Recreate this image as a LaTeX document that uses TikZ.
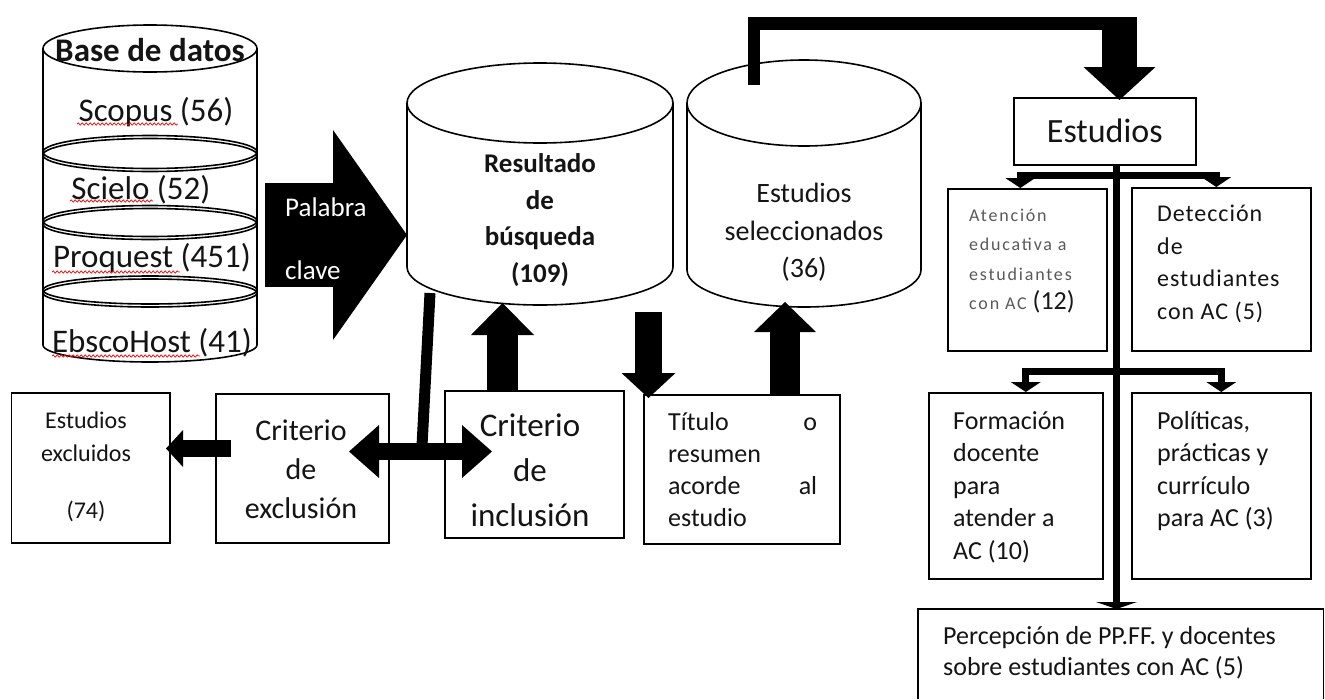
\documentclass[tikz,border=0pt]{standalone}
\usepackage{fontspec}
\setmainfont{Carlito}
\usetikzlibrary{arrows.meta,decorations.pathmorphing}
\newcommand\fsz[2]{\fontsize{#1pt}{#2pt}\selectfont}
\begin{document}
\begin{tikzpicture}[x=1pt,y=-1pt,
  line join=miter,
  cyl/.style={draw=black, line width=1.6pt},
  box/.style={draw=black, line width=1.6pt, fill=white, anchor=north west, inner sep=0pt},
  txt/.style={inner sep=0pt, text=black!92},
  blk/.style args={#1/#2/#3}{line width=#1, -{Triangle[width=#2,length=#3,line width=0pt]}},
  tree/.style={line width=7pt, -{Triangle[width=30pt,length=10pt,line width=0pt]}},
  squig/.style={draw=red, line width=0.7pt, decorate, decoration={snake, amplitude=1.1pt, segment length=4pt}},
]
\fill[white] (0,0) rectangle (1325,699);
\useasboundingbox (0,0) rectangle (1325,699);

% ---------- database cylinder ----------
\draw[cyl, fill=white] (43,48.5) -- (43,345) arc[start angle=180,end angle=360,x radius=107pt,y radius=17pt] -- (257,48.5);
\draw[cyl] (150,48.5) ellipse[x radius=107pt,y radius=23.5pt];
\foreach \yy/\ry in {152/16.5, 221/15.5, 290/14}{
  \draw[cyl] (150,\yy) ellipse[x radius=107pt,y radius=\ry pt];
  \draw[cyl] (150,\yy+3) ellipse[x radius=107pt,y radius=\ry pt];
}
\node[txt, font=\fsz{33}{40}\bfseries] (dbT) at (150,50) {Base de datos};
\node[txt, font=\fsz{33}{40}] (scopus) at (156,112) {Scopus (56)};
\node[txt, font=\fsz{33}{40}] (scielo) at (141,190) {Scielo (52)};
\node[txt, font=\fsz{33}{40}] (proq) at (152,258) {Proquest (451)};
\node[txt, font=\fsz{33}{40}] (ebsco) at (152,343) {EbscoHost (41)};
\draw[squig] (77,124) -- (178,124);
\draw[squig] (70,201) -- (153,201);
\draw[squig] (52,272) -- (180,272);
\draw[squig] (52,356) -- (200,356);

% ---------- Resultado cylinder ----------
\draw[cyl, fill=white] (407,103) -- (407,267) arc[start angle=180,end angle=360,x radius=133pt,y radius=38pt] -- (673,103);
\draw[cyl] (540,103) ellipse[x radius=133pt,y radius=40pt];
\node[txt, font=\fsz{27}{36.7}\bfseries, align=center] (res) at (540,220) {Resultado\\de\\búsqueda\\(109)};

% ---------- Estudios seleccionados cylinder ----------
\draw[cyl, fill=white] (687,103) -- (687,270) arc[start angle=180,end angle=360,x radius=117pt,y radius=37pt] -- (921,103);
\draw[cyl] (804,103) ellipse[x radius=117pt,y radius=43pt];
\node[txt, font=\fsz{28}{37.5}, align=center] (sel) at (804,232.5) {Estudios\\seleccionados\\(36)};

% ---------- Palabra clave arrow ----------
\coordinate (pkS) at (265,235);
\coordinate (pkE) at (407,235);
\draw[blk=104pt/210pt/74pt] (pkS) -- (pkE);
\node[txt, anchor=west, text=white, font=\fsz{27}{30}] (pal) at (285,207) {Palabra};
\node[txt, anchor=west, text=white, font=\fsz{27}{30}] (clave) at (285,270) {clave};

% ---------- bottom-left boxes ----------
\node[box, minimum width=158.5pt, minimum height=150pt] (exc) at (10.5,392) {};
\node[box, minimum width=173pt, minimum height=149pt] (crex) at (215,393) {};
\node[box, minimum width=179pt, minimum height=147pt] (crin) at (444,390) {};
\node[box, minimum width=196pt, minimum height=149pt] (tit) at (643,394) {};

% ---------- right column boxes ----------
\node[box, minimum width=182pt, minimum height=67pt] (est) at (1013,97) {};
\node[box, minimum width=159pt, minimum height=162pt] (aten) at (947,188) {};
\node[box, minimum width=179pt, minimum height=163pt] (detec) at (1131,187) {};
\node[box, minimum width=174pt, minimum height=186pt] (form) at (928,392) {};
\node[box, minimum width=179pt, minimum height=186pt] (poli) at (1131,392) {};
\node[inner sep=0pt, anchor=north west, minimum width=405pt, minimum height=90pt] (perc) at (918,609) {};
\draw[line width=1.6pt] (perc.south west) |- (perc.north east) -- (perc.south east);

% ---------- connectors ----------
\coordinate (exA) at (231,448.5);
\coordinate (exB) at (166,448.5);
\draw[blk=17pt/37pt/17pt] (exA) -- (exB);

\coordinate (dA) at (349,451.5);
\coordinate (dB) at (492,451.5);
\draw[line width=17pt, {Triangle[width=53pt,length=30pt,line width=0pt]}-{Triangle[width=53pt,length=30pt,line width=0pt]}] (dA) -- (dB);

\coordinate (barT) at (430,293);
\coordinate (barB) at (422,446);
\draw[line width=11pt] (barT) -- (barB);

\coordinate (inUpS) at (502.5,390);
\coordinate (inUpE) at (502.5,303);
\draw[blk=31pt/63pt/32pt] (inUpS) -- (inUpE);

\coordinate (tiDnS) at (648.5,312);
\coordinate (tiDnE) at (648.5,398);
\draw[blk=27pt/54pt/25pt] (tiDnS) -- (tiDnE);

\coordinate (tiUpS) at (785,394);
\coordinate (tiUpE) at (785,302);
\draw[blk=30pt/62pt/30pt] (tiUpS) -- (tiUpE);

\coordinate (selTop) at (754,85);
\coordinate (bend) at (1120,23.5);
\draw[line width=12.5pt] (selTop) |- (bend);
\coordinate (colTop) at (1119.5,17);
\coordinate (colTip) at (1119.5,100);
\draw[blk=35pt/72pt/33pt] (colTop) -- (colTip);

% tree
\coordinate (trTop) at (1116.5,164);
\draw[line width=7pt, -{Triangle[width=41pt,length=7pt,line width=0pt]}] (trTop) -- (trTop |- perc.north);
\coordinate (j1) at (1116.5,175);
\draw[tree] (j1) -| ([xshift=-7pt]aten.north);
\draw[tree] (j1) -| ([xshift=-5pt]detec.north);
\coordinate (j2) at (1116.5,371.5);
\draw[tree] (j2) -| ([xshift=10pt]form.north);
\draw[tree] (j2) -| (poli.north);

% ---------- texts ----------
\node[txt, font=\fsz{24}{33}, align=center] (excT) at (86,467) {Estudios\\excluidos\\[24pt](74)};
\node[txt, font=\fsz{30}{39}, align=center] (crexT) at (301,469) {Criterio\\de\\exclusión};
\node[txt, font=\fsz{33}{45}, align=center] (crinT) at (530,470) {Criterio\\de\\inclusión};
\node[txt, font=\fsz{26}{32}, text width=149pt, align=left, anchor=west] (titT) at (668,470) {Título\hfill o\\resumen\\acorde\hfill al\\estudio};

\node[txt, font=\fsz{34}{40}] (estT) at (est.center) {Estudios};
\node[txt, font=\fsz{18}{29.3}\addfontfeature{LetterSpace=10}, text=black!65, align=left, anchor=west] (atenT) at (969,261) {Atención\\educativa a\\estudiantes\\con AC {\fsz{26}{29.3}\addfontfeature{LetterSpace=0}\color{black!90}(12)}};
\node[txt, font=\fsz{24}{32.7}\addfontfeature{LetterSpace=4}, align=left, anchor=west] (detT) at (1157,264) {Detección\\de\\estudiantes\\con AC (5)};
\node[txt, font=\fsz{26}{32.5}, align=left, anchor=west] (formT) at (953,487) {Formación\\docente\\para\\atender a\\AC (10)};
\node[txt, font=\fsz{26}{32.5}, align=left, anchor=west] (poliT) at (1157,471) {Políticas,\\prácticas y\\currículo\\para AC (3)};
\node[txt, font=\fsz{26}{31}, align=left, anchor=west] (percT) at (943,652.5) {Percepción de PP.FF. y docentes\\sobre estudiantes con AC (5)};
\end{tikzpicture}
\end{document}
